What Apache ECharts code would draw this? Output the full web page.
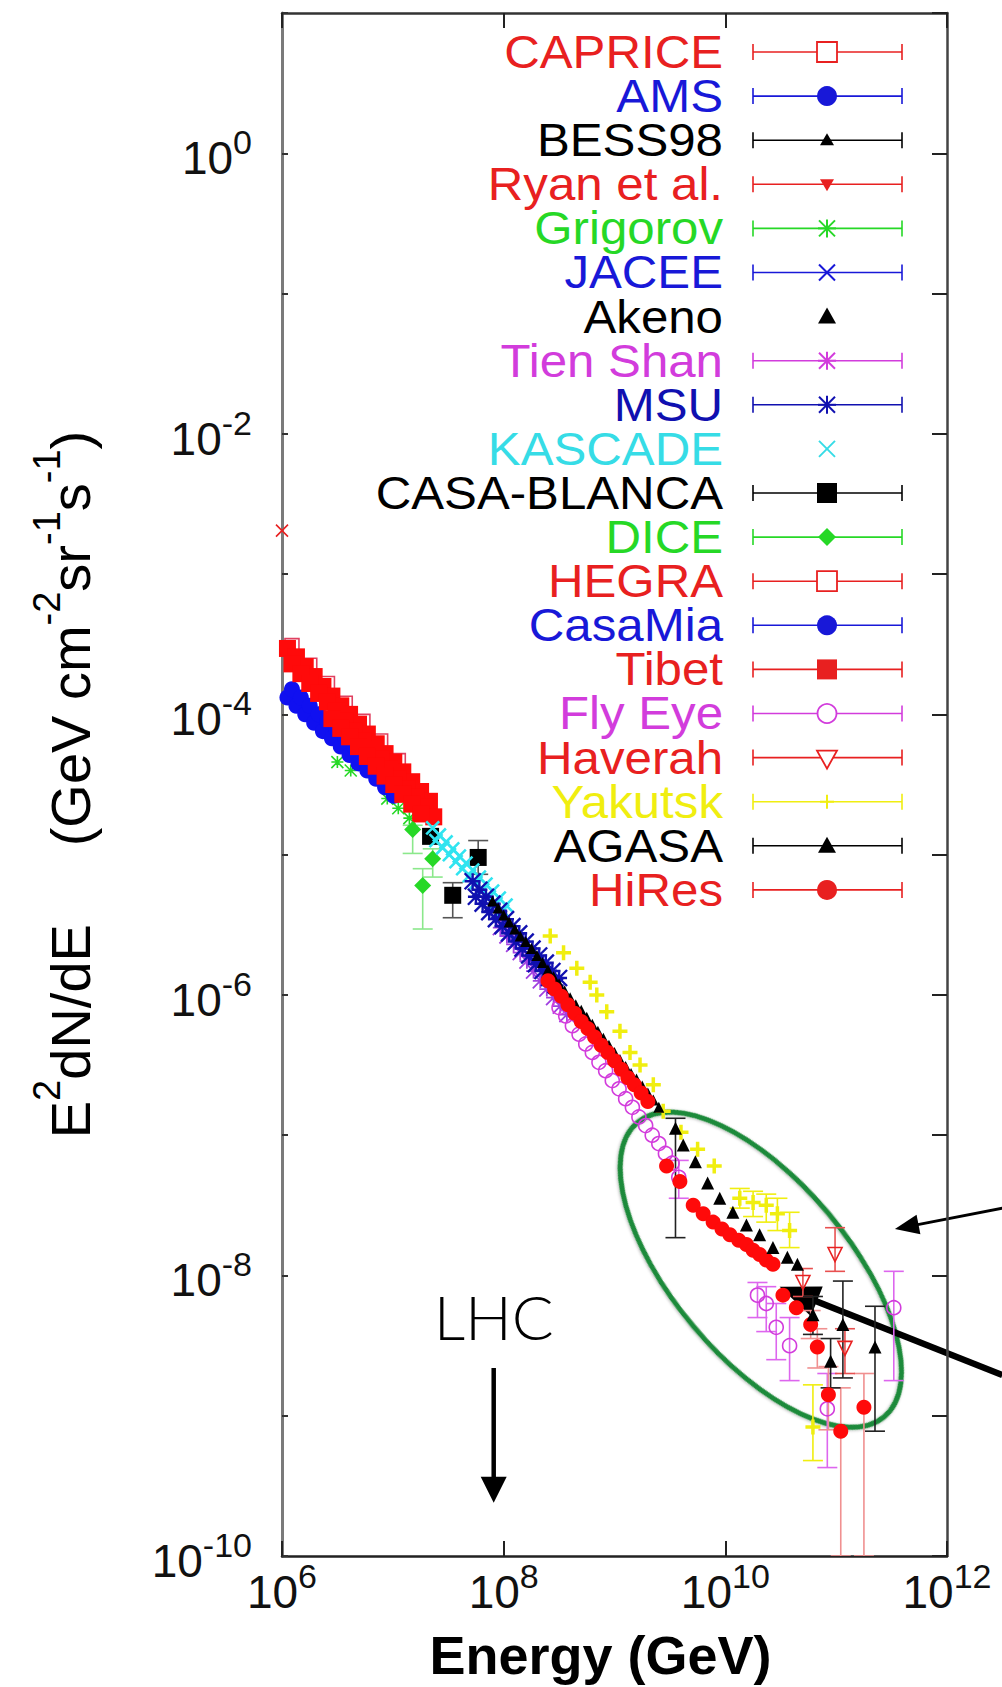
<!DOCTYPE html>
<html>
<head>
<meta charset="utf-8">
<title>Cosmic ray spectrum</title>
<script src="https://cdn.jsdelivr.net/npm/echarts@6/dist/echarts.min.js"></script>
<style>
  html, body { margin: 0; padding: 0; background: #fff; }
  #chart { width: 1002px; height: 1687px; }
</style>
</head>
<body>
<div id="chart"></div>
<script>
// values: [energy GeV, E^2 dN/dE]; error bars: [energy, low, high]
const tibet = [
  [1.12e6,2.95e-4],[1.35e6,2.57e-4],[1.62e6,2.19e-4],[1.95e6,1.86e-4],[2.34e6,1.58e-4],[2.82e6,1.35e-4],[3.39e6,1.15e-4],[4.07e6,1.00e-4],[4.90e6,8.51e-5],[5.89e6,7.24e-5],[7.08e6,6.17e-5],[8.51e6,5.25e-5],[1.02e7,4.57e-5],[1.23e7,3.89e-5],[1.48e7,3.31e-5],[1.78e7,2.82e-5],[2.14e7,2.40e-5],
  [1.23e6,2.29e-4],[1.48e6,1.95e-4],[1.78e6,1.66e-4],[2.14e6,1.41e-4],[2.57e6,1.23e-4],[3.09e6,1.05e-4],[3.72e6,8.91e-5],[4.47e6,7.59e-5],[5.37e6,6.46e-5],[6.46e6,5.62e-5],[7.76e6,4.79e-5],[9.33e6,4.07e-5],[1.12e7,3.47e-5],[1.35e7,2.95e-5],[1.62e7,2.57e-5],[1.95e7,2.19e-5],[2.34e7,1.86e-5],
  [2.82e6,9.33e-5],[3.39e6,7.94e-5],[4.07e6,6.92e-5],[4.90e6,5.89e-5],[5.89e6,5.01e-5],[7.08e6,4.27e-5],[8.51e6,3.63e-5],[1.02e7,3.16e-5],[1.23e7,2.69e-5],[1.48e7,2.29e-5],[1.78e7,1.95e-5]
];
const hegra = [[1.23e6,3.09e-4],[1.78e6,2.24e-4],[2.57e6,1.66e-4],[3.72e6,1.20e-4],[5.37e6,8.91e-5],[7.76e6,6.46e-5],[1.12e7,4.68e-5]];
const casaMia = [
  [1.12e6,1.32e-4],[1.35e6,1.15e-4],[1.62e6,1.00e-4],[1.95e6,8.71e-5],[2.34e6,7.59e-5],[2.82e6,6.76e-5],[3.39e6,5.89e-5],[4.07e6,5.13e-5],[4.90e6,4.47e-5],[5.89e6,3.98e-5],[7.08e6,3.47e-5],[8.51e6,3.02e-5],[1.02e7,2.63e-5],
  [1.23e6,1.51e-4],[1.48e6,1.32e-4],[1.78e6,1.15e-4],[2.14e6,1.00e-4],[2.57e6,8.91e-5],[3.09e6,7.76e-5],[3.72e6,6.76e-5],[4.47e6,5.89e-5],[5.37e6,5.25e-5],[6.46e6,4.57e-5],[7.76e6,3.98e-5]
];
const grigorov = [[3.16e6,4.57e-5],[4.17e6,3.98e-5],[8.91e6,2.51e-5],[1.12e7,2.14e-5],[1.41e7,1.82e-5]];
const dice = [[1.51e7,1.51e-5],[2.29e7,9.33e-6],[1.86e7,6.03e-6]];
const diceErr = [[1.51e7,1.02e-5,1.62e-5],[2.29e7,6.92e-6,1.10e-5],[1.86e7,2.95e-6,7.94e-6]];
const casaBlanca = [[2.19e7,1.35e-5],[5.89e7,9.55e-6],[3.47e7,5.13e-6]];
const casaBlancaErr = [[5.89e7,7.24e-6,1.26e-5],[3.47e7,3.55e-6,6.31e-6]];
const kascade = [
  [2.29e7,1.55e-5],[2.63e7,1.38e-5],[3.02e7,1.23e-5],[3.47e7,1.10e-5],[3.98e7,9.77e-6],[4.57e7,8.71e-6],[5.25e7,7.76e-6],[6.03e7,6.92e-6],[6.92e7,6.17e-6],[7.94e7,5.50e-6],[9.12e7,4.90e-6],[1.05e8,4.37e-6],
  [2.45e7,1.26e-5],[2.82e7,1.12e-5],[3.24e7,1.00e-5],[3.72e7,8.91e-6],[4.27e7,7.94e-6],[4.90e7,7.08e-6],[5.62e7,6.31e-6],[6.46e7,5.62e-6],[7.41e7,5.01e-6],[8.51e7,4.47e-6],[9.77e7,3.98e-6]
];
const msu = [
  [5.25e7,6.46e-6],[6.03e7,5.62e-6],[6.92e7,5.01e-6],[7.94e7,4.47e-6],[9.12e7,3.98e-6],[1.05e8,3.47e-6],[1.20e8,3.09e-6],[1.38e8,2.75e-6],[1.58e8,2.40e-6],[1.82e8,2.14e-6],[2.09e8,1.91e-6],[2.40e8,1.70e-6],[2.75e8,1.48e-6],[3.16e8,1.32e-6],
  [5.62e7,5.01e-6],[6.46e7,4.47e-6],[7.41e7,3.89e-6],[8.51e7,3.47e-6],[9.77e7,3.09e-6],[1.12e8,2.75e-6],[1.29e8,2.40e-6],[1.48e8,2.14e-6],[1.70e8,1.91e-6],[1.95e8,1.66e-6],[2.24e8,1.48e-6],[2.57e8,1.32e-6],[2.95e8,1.17e-6]
];
const tienShan = [[9.33e7,3.02e-6],[1.07e8,2.63e-6],[1.23e8,2.29e-6],[1.41e8,2.00e-6],[1.62e8,1.74e-6],[1.86e8,1.48e-6],[2.14e8,1.26e-6],[2.45e8,1.10e-6],[2.82e8,9.55e-7],[3.24e8,8.32e-7],[3.72e8,7.24e-7]];
const akeno = [[7.94e7,4.68e-6],[8.91e7,4.17e-6],[1.00e8,3.72e-6],[1.12e8,3.31e-6],[1.26e8,2.95e-6],[1.41e8,2.63e-6],[1.58e8,2.40e-6],[1.78e8,2.14e-6],[2.00e8,1.91e-6],[2.24e8,1.70e-6],[2.51e8,1.51e-6],[2.82e8,1.35e-6],[3.16e8,1.20e-6],[3.55e8,1.07e-6],[3.98e8,9.55e-7],[4.47e8,8.51e-7],[5.01e8,7.76e-7],[5.62e8,6.92e-7],[6.31e8,6.17e-7],[7.08e8,5.50e-7],[7.94e8,4.90e-7],[8.91e8,4.37e-7],[1.00e9,3.89e-7],[1.12e9,3.47e-7],[1.26e9,3.09e-7],[1.41e9,2.75e-7],[1.58e9,2.51e-7],[1.78e9,2.24e-7],[2.00e9,2.00e-7],[2.24e9,1.78e-7],[2.51e9,1.58e-7]];
const flyEye = [[3.16e8,8.13e-7],[3.63e8,7.08e-7],[4.17e8,6.03e-7],[4.79e8,5.25e-7],[5.50e8,4.47e-7],[6.31e8,3.89e-7],[7.24e8,3.31e-7],[8.32e8,2.88e-7],[9.55e8,2.45e-7],[1.10e9,2.14e-7],[1.26e9,1.82e-7],[1.45e9,1.58e-7],[1.66e9,1.35e-7],[1.91e9,1.17e-7],[2.19e9,1.00e-7],[2.51e9,8.71e-8],[2.88e9,7.41e-8],[3.31e9,6.31e-8],[3.80e9,5.01e-8],[1.95e10,7.24e-9],[2.34e10,6.31e-9],[2.88e10,4.27e-9],[3.80e10,3.16e-9],[8.32e10,1.12e-9],[3.31e11,5.89e-9]];
const flyEyeErr = [[3.80e9,3.55e-8,6.61e-8],[1.95e10,5.01e-9,8.91e-9],[2.34e10,3.98e-9,8.32e-9],[2.88e10,2.51e-9,6.31e-9],[3.80e10,1.78e-9,5.01e-9],[8.32e10,4.27e-10,2.00e-9],[3.31e11,1.78e-9,1.07e-8]];
const haverah = [[5.01e10,8.91e-9],[9.77e10,1.41e-8],[1.20e11,3.02e-9]];
const haverahErr = [[5.01e10,7.08e-9,1.12e-8],[9.77e10,1.07e-8,2.19e-8],[1.20e11,2.00e-9,4.17e-9]];
const yakutsk = [[2.63e8,2.63e-6],[3.47e8,2.00e-6],[4.57e8,1.55e-6],[6.03e8,1.23e-6],[6.92e8,1.00e-6],[8.51e8,7.59e-7],[1.12e9,5.50e-7],[1.38e9,3.89e-7],[1.70e9,3.16e-7],[2.24e9,2.29e-7],[2.75e9,1.48e-7],[3.98e9,1.05e-7],[5.62e9,7.94e-8],[7.94e9,6.03e-8],[1.35e10,3.55e-8],[1.78e10,3.31e-8],[2.34e10,3.16e-8],[2.95e10,2.75e-8],[3.80e10,2.09e-8],[6.17e10,8.32e-10]];
const yakutskErr = [[1.35e10,3.02e-8,4.17e-8],[1.78e10,2.63e-8,3.98e-8],[2.34e10,2.40e-8,3.80e-8],[2.95e10,2.09e-8,3.55e-8],[3.80e10,1.58e-8,2.82e-8],[6.17e10,4.79e-10,1.66e-9]];
const agasa = [[3.55e9,1.12e-7],[4.17e9,8.51e-8],[5.37e9,6.46e-8],[6.92e9,4.57e-8],[8.91e9,3.55e-8],[1.17e10,2.82e-8],[1.55e10,2.29e-8],[2.04e10,1.95e-8],[2.69e10,1.58e-8],[3.63e10,1.35e-8],[4.47e10,1.20e-8],[6.17e10,5.25e-9],[8.91e10,2.45e-9],[1.15e11,4.47e-9],[2.24e11,3.09e-9]];
const agasaErr = [[3.55e9,1.86e-8,1.32e-7],[6.17e10,3.80e-9,7.08e-9],[8.91e10,1.58e-9,3.55e-9],[1.15e11,1.86e-9,9.12e-9],[2.24e11,7.76e-10,6.03e-9]];
const hiRes = [
  [2.51e8,1.26e-6],[2.88e8,1.10e-6],[3.31e8,9.77e-7],[3.80e8,8.51e-7],[4.37e8,7.41e-7],[5.01e8,6.46e-7],[5.75e8,5.75e-7],[6.61e8,5.01e-7],[7.59e8,4.37e-7],[8.71e8,3.89e-7],[1.00e9,3.39e-7],[1.15e9,2.95e-7],[1.32e9,2.57e-7],[1.51e9,2.29e-7],[1.74e9,2.00e-7],[2.00e9,1.74e-7],
  [2.95e9,6.03e-8],[3.89e9,4.68e-8],[5.13e9,3.16e-8],[6.31e9,2.75e-8],[7.76e9,2.40e-8],[9.33e9,2.14e-8],[1.10e10,1.95e-8],[1.32e10,1.78e-8],[1.55e10,1.66e-8],[1.78e10,1.51e-8],[2.04e10,1.41e-8],[2.34e10,1.29e-8],[2.69e10,1.20e-8],[3.31e10,7.24e-9],[4.37e10,5.89e-9],[5.89e10,4.47e-9],[6.76e10,3.09e-9],[8.51e10,1.41e-9],[1.10e11,7.76e-10],[1.78e11,1.15e-9]
];
const hiResErr = [[5.89e10,3.55e-9,5.62e-9],[6.76e10,2.19e-9,4.17e-9],[8.51e10,7.94e-10,2.24e-9],[1.10e11,1.0e-10,1.58e-9],[1.78e11,1.0e-10,2.00e-9]];
const edgeCross = [[1.0e6,2.04e-3]];

// legend
const legendNames = ['CAPRICE','AMS','BESS98','Ryan et al.','Grigorov','JACEE','Akeno','Tien Shan','MSU','KASCADE','CASA-BLANCA','DICE','HEGRA','CasaMia','Tibet','Fly Eye','Haverah','Yakutsk','AGASA','HiRes'];
const legendShapes = ['openSquare','circle','smallTriangle','downTriangle','star','cross','triangle','star','star','cross','square','diamond','openSquare','circle','square','openCircle','openDownTriangle','plus','triangle','circle'];
const legendHasBar = [1,1,1,1,1,1,0,1,1,0,1,1,1,1,1,1,1,1,1,1];

// axes ticks (exponents)
const xTickExp = [6, 12];
const yTickExp = [-10, 1];

// annotations, in data coordinates
const ellipseCenter = [2.09e10, 1.10e-8];
const smallArrow = [[3.16e12, 3.02e-8], [3.39e11, 2.14e-8]];
const bigArrow = [[3.16e12, 1.95e-9], [3.09e10, 8.32e-9]];
const lhcArrow = [[8.13e7, 2.19e-9], [8.13e7, 2.40e-10]];
const lhcLabelAt = [8.13e7, 5.13e-9];

const FONT = "'Liberation Sans', Arial, Helvetica, sans-serif";
const RED = '#e82020', BLUE = '#1818d8', DBLUE = '#1010b0', BLACK = '#000', GREEN = '#26d826',
  MAG = '#d23cdc', CYAN = '#36dce6', YELLOW = '#f0ee10';
const legendColors = [RED, BLUE, BLACK, RED, GREEN, BLUE, BLACK, MAG, DBLUE, CYAN, BLACK, GREEN, RED, BLUE, RED, MAG, RED, YELLOW, BLACK, RED];

const CROSS = 'path://M0,0L10,10M10,0L0,10';
const STAR = 'path://M0,0L10,10M10,0L0,10M5,0L5,10M0,5L10,5';
const PLUS = 'path://M5,0L5,10M0,5L10,5';

function pts(name, data, symbol, size, color, extra) {
  return Object.assign({
    name, type: 'scatter', xAxisIndex: 0, yAxisIndex: 0, data, symbol, symbolSize: size,
    silent: true, itemStyle: { color, borderWidth: 0, opacity: 1 }
  }, extra || {});
}
function hollow(name, data, symbol, size, color, extra) {
  return pts(name, data, symbol, size, color, Object.assign({
    itemStyle: { color: 'rgba(255,255,255,0)', borderColor: color, borderWidth: 1.6, opacity: 1 }
  }, extra || {}));
}
function strokes(name, data, symbol, size, color, width) {
  return pts(name, data, symbol, size, color, {
    itemStyle: { color: 'none', borderColor: color, borderWidth: width, opacity: 1 }
  });
}
function bars(data, color, cap) {
  return {
    type: 'custom', xAxisIndex: 0, yAxisIndex: 0, data, silent: true, clip: true,
    encode: { x: 0, y: [1, 2] },
    renderItem(params, api) {
      const top = api.coord([api.value(0), api.value(2)]);
      const bot = api.coord([api.value(0), api.value(1)]);
      const x = top[0];
      const st = { stroke: color, lineWidth: 1.6 };
      return { type: 'group', children: [
        { type: 'line', shape: { x1: x, y1: top[1], x2: x, y2: bot[1] }, style: st },
        { type: 'line', shape: { x1: x - cap, y1: top[1], x2: x + cap, y2: top[1] }, style: st },
        { type: 'line', shape: { x1: x - cap, y1: bot[1], x2: x + cap, y2: bot[1] }, style: st }
      ] };
    }
  };
}

const tickRich = {
  b: { fontFamily: FONT, fontSize: 46, color: '#111', lineHeight: 56, verticalAlign: 'bottom' },
  s: { fontFamily: FONT, fontSize: 34, color: '#111', lineHeight: 27, verticalAlign: 'top' }
};
const supLabel = v => '{b|10}{s|' + v + '}';

const chart = echarts.init(document.getElementById('chart'), null, { renderer: 'svg' });

const option = {
  animation: false,
  backgroundColor: '#fff',
  grid: { left: 282, right: 55, top: 13, bottom: 129 },
  xAxis: [
    {
      type: 'log', position: 'bottom', min: 1e6, max: 1e12,
      axisLine: { onZero: false, lineStyle: { color: '#222', width: 2.5 } },
      axisTick: { show: false }, axisLabel: { show: false }, splitLine: { show: false },
      name: 'Energy (GeV)', nameLocation: 'middle', nameGap: 72,
      nameTextStyle: { fontFamily: FONT, fontSize: 54, fontWeight: 'bold', color: '#000', padding: [0, 28, 0, 0] }
    },
    {
      type: 'value', position: 'bottom', min: xTickExp[0], max: xTickExp[1], interval: 2,
      axisLine: { show: false, onZero: false },
      axisTick: { inside: true, length: 15, lineStyle: { color: '#222', width: 2 } },
      axisLabel: { margin: 3, formatter: v => supLabel(v), rich: tickRich },
      splitLine: { show: false }
    },
    {
      type: 'value', position: 'top', min: xTickExp[0], max: xTickExp[1], interval: 2,
      axisLine: { onZero: false, lineStyle: { color: '#333', width: 2.5 } },
      axisTick: { inside: true, length: 15, lineStyle: { color: '#222', width: 2 } },
      axisLabel: { show: false }, splitLine: { show: false }
    }
  ],
  yAxis: [
    {
      type: 'log', position: 'left', min: 1e-10, max: 10,
      axisLine: { onZero: false, lineStyle: { color: '#7a7a7a', width: 3 } },
      axisTick: { show: false }, axisLabel: { show: false }, splitLine: { show: false },
      name: '{n|E}{s|2}{n|dN/dE\u00a0\u00a0\u00a0\u00a0\u00a0(GeV cm}{s|-2}{n|sr}{s|-1}{n|s}{s|-1}{n|)}',
      nameLocation: 'middle', nameRotate: 90, nameGap: 184,
      nameTextStyle: {
        rich: {
          n: { fontFamily: FONT, fontSize: 56, color: '#000', lineHeight: 70, verticalAlign: 'bottom' },
          s: { fontFamily: FONT, fontSize: 38, color: '#000', lineHeight: 24, verticalAlign: 'top' }
        }
      }
    },
    {
      type: 'value', position: 'left', min: yTickExp[0], max: yTickExp[1], interval: 1,
      axisLine: { show: false, onZero: false },
      axisTick: { inside: true, length: 6, lineStyle: { color: '#333', width: 2 } },
      axisLabel: { margin: 30, formatter: v => (v % 2 !== 0 ? '' : supLabel(v)), rich: tickRich },
      splitLine: { show: false }
    },
    {
      type: 'value', position: 'right', min: yTickExp[0], max: yTickExp[1], interval: 1,
      axisLine: { onZero: false, lineStyle: { color: '#444', width: 2.5 } },
      axisTick: { inside: true, length: 15, lineStyle: { color: '#222', width: 2 } },
      axisLabel: { show: false }, splitLine: { show: false }
    }
  ],
  series: [
    strokes('edge', edgeCross, CROSS, 12, RED, 1.6),
    strokes('Grigorov', grigorov, STAR, 12, GREEN, 1.6),
    pts('CasaMia', casaMia, 'circle', 16, '#1010f0'),
    hollow('HEGRA', hegra, 'rect', 14, '#e04060'),
    pts('Tibet', tibet, 'rect', 17, '#ff0a0a'),
    bars(diceErr, '#8be88b', 10),
    pts('DICE', dice, 'diamond', 17, GREEN),
    bars(casaBlancaErr, '#555', 10),
    pts('CASA-BLANCA', casaBlanca, 'rect', 17, BLACK),
    strokes('KASCADE', kascade, CROSS, 13, '#30e4f0', 2.6),
    strokes('Tien Shan', tienShan, STAR, 15, '#a040e0', 1.8),
    strokes('MSU', msu, STAR, 16, DBLUE, 2.4),
    strokes('Yakutsk', yakutsk, PLUS, 15, YELLOW, 3.5),
    bars(yakutskErr, YELLOW, 10),
    bars(flyEyeErr, '#dd66ee', 10),
    hollow('Fly Eye', flyEye, 'circle', 14, MAG),
    pts('Akeno', akeno, 'triangle', 11, BLACK),
    bars(hiResErr, '#f09090', 10),
    pts('HiRes', hiRes, 'circle', 15, '#ff0a0a'),
    bars(haverahErr, '#e85050', 10),
    hollow('Haverah', haverah, 'triangle', 14, RED, { symbolRotate: 180 }),
    bars(agasaErr, '#222', 10),
    pts('AGASA', agasa, 'triangle', 13, BLACK)
  ]
};
chart.setOption(option);

// ---- legend and annotations drawn as graphic elements ----
function legendMarker(shape, cx, cy, color) {
  const fill = { fill: color };
  const open = { fill: '#fff', stroke: color, lineWidth: 1.8 };
  const ln = (x1, y1, x2, y2, w) => ({ type: 'line', shape: { x1, y1, x2, y2 }, style: { stroke: color, lineWidth: w || 2 } });
  switch (shape) {
    case 'square': return [{ type: 'rect', shape: { x: cx - 10, y: cy - 10, width: 20, height: 20 }, style: fill }];
    case 'openSquare': return [{ type: 'rect', shape: { x: cx - 10, y: cy - 10, width: 20, height: 20 }, style: open }];
    case 'circle': return [{ type: 'circle', shape: { cx, cy, r: 10 }, style: fill }];
    case 'openCircle': return [{ type: 'circle', shape: { cx, cy, r: 9.5 }, style: open }];
    case 'triangle': return [{ type: 'polygon', shape: { points: [[cx, cy - 9], [cx - 9, cy + 7], [cx + 9, cy + 7]] }, style: fill }];
    case 'smallTriangle': return [{ type: 'polygon', shape: { points: [[cx, cy - 7], [cx - 7, cy + 5], [cx + 7, cy + 5]] }, style: fill }];
    case 'downTriangle': return [{ type: 'polygon', shape: { points: [[cx, cy + 7], [cx - 7, cy - 5], [cx + 7, cy - 5]] }, style: fill }];
    case 'openDownTriangle': return [{ type: 'polygon', shape: { points: [[cx, cy + 11], [cx - 10, cy - 7], [cx + 10, cy - 7]] }, style: open }];
    case 'diamond': return [{ type: 'polygon', shape: { points: [[cx, cy - 9], [cx + 9, cy], [cx, cy + 9], [cx - 9, cy]] }, style: fill }];
    case 'cross': return [ln(cx - 8, cy - 8, cx + 8, cy + 8), ln(cx + 8, cy - 8, cx - 8, cy + 8)];
    case 'star': return [ln(cx - 8, cy - 8, cx + 8, cy + 8), ln(cx + 8, cy - 8, cx - 8, cy + 8), ln(cx, cy - 9, cx, cy + 9), ln(cx - 9, cy, cx + 9, cy)];
    case 'plus': return [ln(cx - 7, cy, cx + 7, cy), ln(cx, cy - 7, cx, cy + 7)];
  }
  return [];
}

const LEG = { top: 52, gap: 44.1, textRight: 723, barL: 753, barR: 902, mark: 827, cap: 8 };
const graphics = [];
legendNames.forEach((name, i) => {
  const y = LEG.top + LEG.gap * i;
  const c = legendColors[i];
  graphics.push({
    type: 'text', x: LEG.textRight, y, scaleX: 1.07, silent: true,
    style: { text: name, fill: c, font: '46px ' + FONT, textAlign: 'right', align: 'right', textVerticalAlign: 'middle', verticalAlign: 'middle' }
  });
  if (legendHasBar[i]) {
    const st = { stroke: c, lineWidth: 1.6 };
    graphics.push({ type: 'line', silent: true, shape: { x1: LEG.barL, y1: y, x2: LEG.barR, y2: y }, style: st });
    graphics.push({ type: 'line', silent: true, shape: { x1: LEG.barL, y1: y - LEG.cap, x2: LEG.barL, y2: y + LEG.cap }, style: st });
    graphics.push({ type: 'line', silent: true, shape: { x1: LEG.barR, y1: y - LEG.cap, x2: LEG.barR, y2: y + LEG.cap }, style: st });
  }
  legendMarker(legendShapes[i], LEG.mark, y, c).forEach(m => { m.silent = true; graphics.push(m); });
});

const px = p => chart.convertToPixel({ xAxisIndex: 0, yAxisIndex: 0 }, p);
function arrow(from, to, width, headLen, headW, color) {
  const a = px(from), b = px(to);
  const dx = b[0] - a[0], dy = b[1] - a[1], len = Math.hypot(dx, dy);
  const ux = dx / len, uy = dy / len, nx = -uy, ny = ux;
  const bx = b[0] - ux * headLen, by = b[1] - uy * headLen;
  return [
    { type: 'line', silent: true, shape: { x1: a[0], y1: a[1], x2: bx + ux * 2, y2: by + uy * 2 }, style: { stroke: color, lineWidth: width } },
    { type: 'polygon', silent: true, shape: { points: [[b[0], b[1]], [bx + nx * headW / 2, by + ny * headW / 2], [bx - nx * headW / 2, by - ny * headW / 2]] }, style: { fill: color } }
  ];
}

const ec = px(ellipseCenter);
graphics.push({
  type: 'ellipse', silent: true, x: ec[0], y: ec[1], rotation: -50 * Math.PI / 180,
  shape: { cx: 0, cy: 0, rx: 192, ry: 88 },
  style: { fill: 'none', stroke: '#1f8a3a', lineWidth: 5, shadowBlur: 3, shadowColor: 'rgba(0,0,0,0.3)', shadowOffsetY: 1 }
});
arrow(smallArrow[0], smallArrow[1], 3, 24, 20, '#000').forEach(g => graphics.push(g));
arrow(bigArrow[0], bigArrow[1], 6.5, 40, 32, '#000').forEach(g => graphics.push(g));
arrow(lhcArrow[0], lhcArrow[1], 4.5, 26, 26, '#000').forEach(g => graphics.push(g));
const lp = px(lhcLabelAt);
graphics.push({
  type: 'text', silent: true, x: lp[0], y: lp[1],
  style: { text: 'LHC', fill: '#000', font: '300 62px Lato, "Open Sans", ' + FONT, textAlign: 'center', align: 'center', textVerticalAlign: 'middle', verticalAlign: 'middle' }
});

chart.setOption({ graphic: graphics });
</script>
</body>
</html>
